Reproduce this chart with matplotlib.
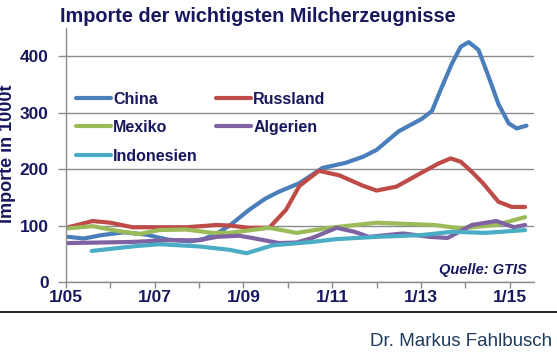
"""Imports of the main dairy products, 2005-2015 (thousand tonnes)."""

import matplotlib
matplotlib.use("Agg")
import matplotlib.pyplot as plt

# ---------------------------------------------------------------------------
# Data (decimal years)
# ---------------------------------------------------------------------------

china_t = [2005.05, 2005.4, 2005.8, 2006.3, 2006.8, 2007.3, 2007.8, 2008.1,
           2008.4, 2008.69, 2009.13, 2009.5, 2009.8, 2010.26, 2010.78, 2011.3,
           2011.7, 2012.0, 2012.5, 2013.02, 2013.25, 2013.47, 2013.7, 2013.9,
           2014.08, 2014.3, 2014.53, 2014.75, 2014.98, 2015.16, 2015.38]
china_v = [80, 77, 83, 88, 84, 75, 72, 76,
           86, 100, 128, 148, 160, 175, 202, 211,
           222, 234, 267, 289, 303, 345, 387, 417,
           425, 411, 363, 315, 281, 272, 277]

russland_t = [2005.05, 2005.6, 2006.0, 2006.5, 2007.1, 2007.7, 2008.4, 2008.69,
              2009.13, 2009.58, 2009.96, 2010.26, 2010.7, 2011.16, 2011.68,
              2012.0, 2012.45, 2013.0, 2013.4, 2013.67, 2013.9, 2014.15,
              2014.4, 2014.75, 2015.05, 2015.35]
russland_v = [97, 108, 105, 97, 97, 97, 101, 100,
              96, 96, 128, 170, 197, 189, 171,
              162, 169, 193, 210, 219, 213, 195,
              175, 142, 133, 133]

mexiko_t = [2005.05, 2005.6, 2006.05, 2006.65, 2007.1, 2007.7, 2008.3, 2008.69,
            2009.58, 2010.2, 2010.93, 2012.0, 2013.3, 2013.9, 2014.7, 2015.35]
mexiko_v = [95, 99, 92, 85, 92, 93, 87, 87,
            96, 87, 96, 105, 101, 95, 101, 115]

algerien_t = [2005.05, 2005.8, 2006.5, 2007.3, 2008.0, 2008.4, 2008.9, 2009.2,
              2009.8, 2010.2, 2010.55, 2011.1, 2011.5, 2011.83, 2012.6, 2013.2,
              2013.6, 2014.15, 2014.7, 2015.1, 2015.35]
algerien_v = [69, 70, 71, 74, 74, 80, 82, 78,
              69, 70, 78, 96, 89, 80, 86, 80,
              78, 101, 108, 97, 101]

indonesien_t = [2005.58, 2006.5, 2007.1, 2008.0, 2008.69, 2009.07, 2009.66,
                2010.55, 2011.1, 2012.0, 2013.0, 2013.7, 2014.45, 2015.35]
indonesien_v = [55, 63, 67, 63, 57, 51, 65,
                71, 76, 80, 83, 89, 87, 92]

x_ticks = [2005, 2007, 2009, 2011, 2013, 2015]
x_ticklabels = ["1/05", "1/07", "1/09", "1/11", "1/13", "1/15"]
y_ticks = [0, 100, 200, 300, 400]

SERIES = [
    ("China", china_t, china_v, "#4A7EBB"),
    ("Russland", russland_t, russland_v, "#BE4B48"),
    ("Mexiko", mexiko_t, mexiko_v, "#9BBB59"),
    ("Algerien", algerien_t, algerien_v, "#7E62A1"),
    ("Indonesien", indonesien_t, indonesien_v, "#4BACC6"),
]
# legend fills column-first; this order gives rows China|Russland, Mexiko|Algerien
LEGEND_ORDER = ["China", "Mexiko", "Indonesien", "Russland", "Algerien"]

NAVY = "#17175E"
FONT = "Liberation Sans"

# ---------------------------------------------------------------------------
# Figure
# ---------------------------------------------------------------------------

plt.rcParams["font.family"] = [FONT, "DejaVu Sans"]

fig = plt.figure(figsize=(5.57, 3.54), dpi=100)
fig.patch.set_facecolor("white")

ax = fig.add_axes([66 / 557, 1 - 282 / 354, 468 / 557, 254 / 354])

lines = {}
for label, t, v, color in SERIES:
    (lines[label],) = ax.plot(t, v, color=color, lw=3.0,
                              solid_joinstyle="round",
                              solid_capstyle="round", label=label)

ax.set_xlim(2005, 2015.55)
ax.set_ylim(0, 450)
ax.set_yticks(y_ticks)
ax.set_xticks(x_ticks)
ax.set_xticks(range(2006, 2016, 2), minor=True)
ax.set_xticklabels(x_ticklabels)

ax.grid(axis="y", color="#8C8C8C", lw=1.0)
ax.set_axisbelow(True)
for side in ("top", "right"):
    ax.spines[side].set_visible(False)
for side in ("left", "bottom"):
    ax.spines[side].set_color("#8C8C8C")
    ax.spines[side].set_linewidth(1.0)

ax.tick_params(axis="both", which="both", direction="out", color="#8C8C8C",
               width=1.0)
ax.tick_params(axis="x", which="both", length=4)
ax.tick_params(axis="y", length=5.5, pad=7)
ax.tick_params(axis="both", labelsize=12.5, labelcolor=NAVY)
ax.tick_params(axis="x", pad=2)
for lab in ax.get_xticklabels() + ax.get_yticklabels():
    lab.set_fontweight("bold")

fig.text(8 / 557, 1 - 154 / 354, "Importe in 1000t", rotation=90,
         ha="center", va="center", fontsize=13, fontweight="bold", color=NAVY)

leg = ax.legend([lines[k] for k in LEGEND_ORDER], LEGEND_ORDER,
                ncol=2, loc="upper left", bbox_to_anchor=(0.021, 0.75),
                frameon=False, fontsize=11.5, handlelength=2.2,
                handletextpad=0.15, columnspacing=1.1, labelspacing=0.85,
                borderaxespad=0, borderpad=0)
for txt in leg.get_texts():
    txt.set_fontweight("bold")
    txt.set_color(NAVY)

ax.text(0.985, 0.02, "Quelle: GTIS", transform=ax.transAxes, ha="right",
        va="bottom", fontsize=10.5, fontweight="bold", style="italic",
        color=NAVY)

fig.text(258 / 557, 1 - 17 / 354, "Importe der wichtigsten Milcherzeugnisse",
         ha="center", va="center", fontsize=14.3, fontweight="bold",
         color=NAVY)

# footer rule and signature
fig.add_artist(plt.Line2D([0, 1], [1 - 312 / 354] * 2, color="black", lw=1.2))
fig.text(552 / 557, 1 - 342 / 354, "Dr. Markus Fahlbusch", ha="right",
         va="center", fontsize=13.5, color="#1F3B5C")

fig.savefig("out.png", dpi=100)
